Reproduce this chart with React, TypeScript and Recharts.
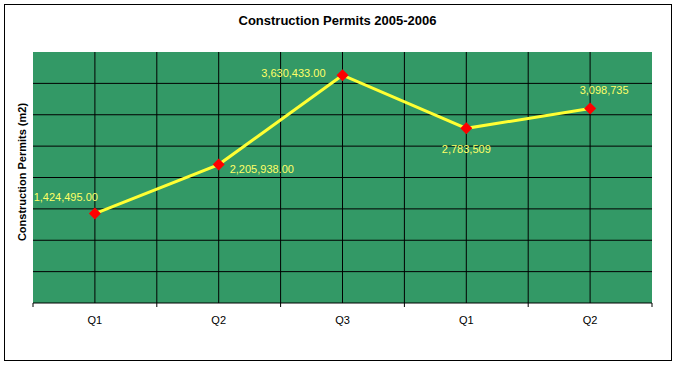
import { LineChart, Line, XAxis, YAxis, CartesianGrid, LabelList } from 'recharts';

const quarters = ['Q1', 'Q2', 'Q3', 'Q1', 'Q2'];
const permits = [1424495, 2205938, 3630433, 2783509, 3098735];
const permitLabels = ['1,424,495.00', '2,205,938.00', '3,630,433.00', '2,783,509', '3,098,735'];
const gridTicks = [500000, 1000000, 1500000, 2000000, 2500000, 3000000, 3500000];
const yMax = 4000000;

const rows = quarters.map((q, i) => ({ q, value: permits[i] }));

const W = 677;
const H = 365;
const margin = { top: 52, right: 25, left: 33, bottom: 32 };
const plotW = W - margin.left - margin.right;
const step = plotW / quarters.length;
const font = '"Liberation Sans", Arial, sans-serif';

// where each value label sits relative to its point (offsets only, no data)
const labelPlacement: { dx: number; dy: number; anchor: 'start' | 'middle' | 'end' }[] = [
  { dx: 3, dy: -13, anchor: 'end' },
  { dx: 11, dy: 8, anchor: 'start' },
  { dx: -17, dy: 2, anchor: 'end' },
  { dx: 0, dy: 25, anchor: 'middle' },
  { dx: 14, dy: -15, anchor: 'middle' },
];

function QuarterTick(props: any) {
  const { x, y, payload, index } = props;
  return (
    <g>
      <line x1={x - step / 2} y1={y} x2={x - step / 2} y2={y + 4} stroke="#000" />
      {index === quarters.length - 1 && (
        <line x1={x + step / 2} y1={y} x2={x + step / 2} y2={y + 4} stroke="#000" />
      )}
      <text x={x} y={y + 21} textAnchor="middle" fontSize={11} fontFamily={font} fill="#000">
        {payload.value}
      </text>
    </g>
  );
}

function Diamond(props: any) {
  const { cx, cy, index } = props;
  if (cx == null || cy == null) return null;
  const r = 6;
  return (
    <polygon
      key={`d-${index}`}
      points={`${cx},${cy - r} ${cx + r},${cy} ${cx},${cy + r} ${cx - r},${cy}`}
      fill="#FF0000"
    />
  );
}

function ValueLabel(props: any) {
  const { x, y, value } = props;
  const i = props.index ?? permits.indexOf(value);
  const p = labelPlacement[i];
  if (!p) return null;
  return (
    <text x={x + p.dx} y={y + p.dy} textAnchor={p.anchor} fontSize={11} fontFamily={font} fill="#FFFF66">
      {permitLabels[i]}
    </text>
  );
}

export default function App() {
  return (
    <div style={{ position: 'absolute', left: 0, top: 0, width: W, height: H, background: '#fff' }}>
      <div
        style={{
          position: 'absolute',
          left: 4,
          top: 4,
          width: 668,
          height: 357,
          boxSizing: 'border-box',
          border: '1px solid #000',
        }}
      />
      <div
        style={{
          position: 'absolute',
          left: 0,
          width: 675,
          top: 13,
          textAlign: 'center',
          fontFamily: font,
          fontWeight: 'bold',
          fontSize: 13,
          lineHeight: '16px',
        }}
      >
        Construction Permits 2005-2006
      </div>
      <div
        style={{
          position: 'absolute',
          left: 22,
          top: 172,
          transform: 'translate(-50%, -50%) rotate(-90deg)',
          whiteSpace: 'nowrap',
          fontFamily: font,
          fontWeight: 'bold',
          fontSize: 11,
          lineHeight: '14px',
        }}
      >
        Construction Permits (m2)
      </div>
      <div style={{ position: 'absolute', left: 0, top: 0 }}>
        <LineChart width={W} height={H} data={rows} margin={margin}>
          <CartesianGrid
            fill="#339966"
            fillOpacity={1}
            stroke="#000"
            strokeOpacity={1}
            horizontal
            vertical
            horizontalCoordinatesGenerator={({ yAxis, offset }: any) =>
              gridTicks.map((v) =>
                typeof yAxis?.scale === 'function'
                  ? yAxis.scale(v)
                  : offset.top + offset.height * (1 - v / yMax),
              )
            }
            verticalCoordinatesGenerator={({ offset }: any) => {
              const pts: number[] = [];
              for (let i = 1; i < quarters.length * 2; i++) pts.push(offset.left + (i * step) / 2);
              return pts;
            }}
          />
          <XAxis
            dataKey="q"
            padding={{ left: step / 2, right: step / 2 }}
            height={30}
            interval={0}
            tickSize={0}
            tickMargin={0}
            tickLine={false}
            axisLine={{ stroke: '#000' }}
            tick={<QuarterTick />}
          />
          <YAxis hide domain={[0, yMax]} ticks={gridTicks} />
          <Line
            type="linear"
            dataKey="value"
            stroke="#FFFF33"
            strokeWidth={3}
            dot={<Diamond />}
            activeDot={false}
            isAnimationActive={false}
          >
            <LabelList dataKey="value" content={<ValueLabel />} />
          </Line>
        </LineChart>
      </div>
    </div>
  );
}
